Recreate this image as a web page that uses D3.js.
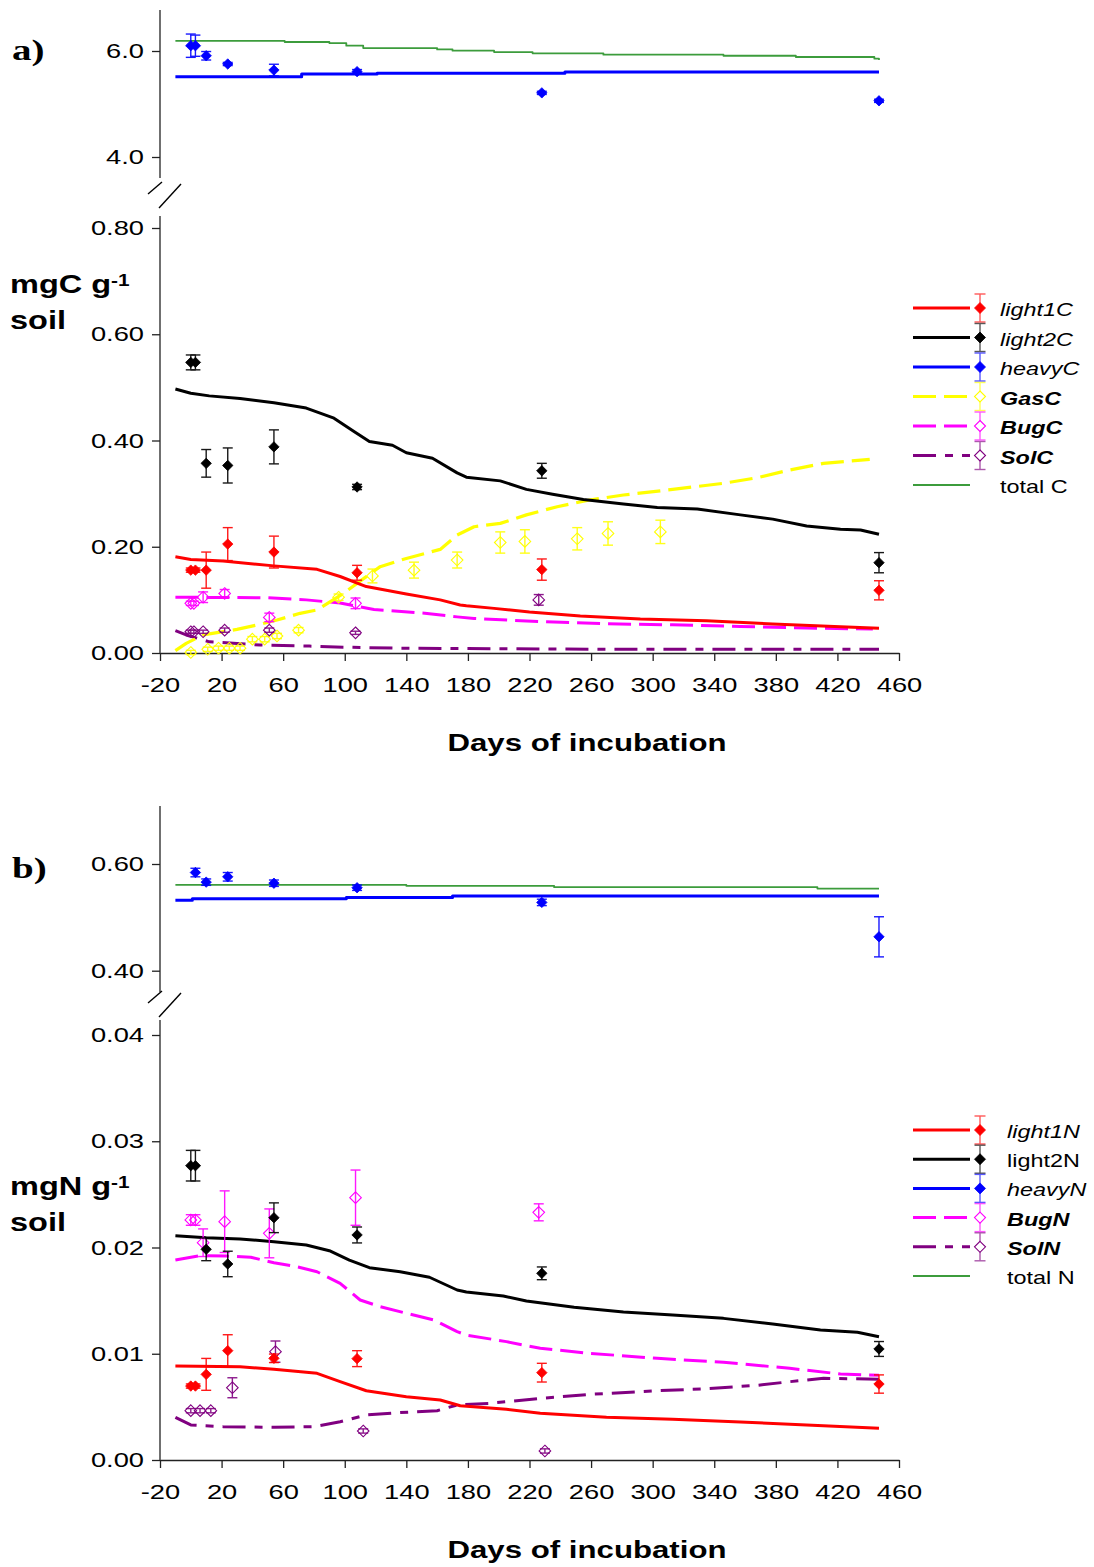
<!DOCTYPE html>
<html>
<head>
<meta charset="utf-8">
<script src="https://cdn.jsdelivr.net/npm/d3@7"></script>
<style>
  body { margin: 0; background: #fff; }
</style>
</head>
<body>
<svg id="chart" width="1094" height="1567"></svg>
<script>
// ---------- shared axis values ----------
const dayTicks = [-20, 20, 60, 100, 140, 180, 220, 260, 300, 340, 380, 420, 460];

// ---------- panel a: carbon pools (mgC g-1 soil) ----------
const fracDaysC = [0, 3, 10, 24, 54, 108, 228, 447];
const heavyC    = [6.10, 6.10, 5.91, 5.755, 5.64, 5.61, 5.21, 5.06];
const heavyCErr = [0.22, 0.20, 0.08, 0.03, 0.11, 0.04, 0.03, 0.03];
const light1C    = [0.156, 0.156, 0.156, 0.205, 0.190, 0.151, 0.157, 0.118];
const light1CErr = [0.004, 0.004, 0.034, 0.031, 0.030, 0.014, 0.020, 0.018];
const light2C    = [0.547, 0.547, 0.357, 0.353, 0.388, 0.3125, 0.343, 0.170];
const light2CErr = [0.014, 0.014, 0.026, 0.033, 0.032, 0.005, 0.014, 0.019];
const gasDaysC = [0, 11, 18, 25, 32, 40, 48, 56, 70, 96, 118, 145, 173, 201, 217, 251, 271, 305];
const gasC     = [0.001, 0.007, 0.009, 0.009, 0.009, 0.026, 0.026, 0.032, 0.043, 0.105, 0.145, 0.156, 0.175, 0.208, 0.210, 0.215, 0.225, 0.228];
const gasCErr  = [0.004, 0.004, 0.004, 0.004, 0.004, 0.005, 0.005, 0.005, 0.005, 0.006, 0.013, 0.015, 0.015, 0.020, 0.022, 0.021, 0.022, 0.022];
const bugDaysC = [0, 2, 8, 22, 51, 107];
const bugC     = [0.0935, 0.0935, 0.105, 0.112, 0.067, 0.0935];
const bugCErr  = [0.004, 0.004, 0.010, 0.0075, 0.008, 0.010];
const solDaysC = [0, 2, 8, 22, 51, 107, 226];
const solC     = [0.040, 0.040, 0.040, 0.043, 0.043, 0.038, 0.100];
const solCErr  = [0.003, 0.003, 0.003, 0.004, 0.004, 0.003, 0.010];

// simulated pools, [day, value]
const totalCModel = [[-10, 6.19], [61, 6.17], [90, 6.15], [101, 6.10], [112, 6.055], [160, 6.03], [170, 6.006],
  [197, 5.98], [222, 5.956], [268, 5.93], [346, 5.91], [393, 5.887], [444, 5.855], [447, 5.83]];
const heavyCModel = [[-10, 5.515], [72, 5.566], [121, 5.58], [243, 5.604], [447, 5.604]];
const light2CModel = [[-10, 0.497], [0, 0.489], [12, 0.484], [32, 0.479], [54, 0.471], [75, 0.461], [93, 0.442],
  [106, 0.417], [116, 0.398], [131, 0.391], [140, 0.377], [157, 0.3665], [173, 0.339], [179, 0.331], [201, 0.324],
  [218, 0.308], [235, 0.299], [255, 0.289], [281, 0.2805], [303, 0.274], [329, 0.271], [357, 0.26], [378, 0.252],
  [400, 0.239], [422, 0.233], [435, 0.2315], [447, 0.2234]];
const light1CModel = [[-10, 0.181], [0, 0.176], [21, 0.173], [54, 0.164], [82, 0.1575], [97, 0.144], [114, 0.125],
  [140, 0.111], [162, 0.10], [175, 0.0904], [179, 0.089], [197, 0.084], [220, 0.077], [253, 0.0696], [292, 0.064],
  [335, 0.0608], [378, 0.0546], [422, 0.0495], [447, 0.0465]];
const gasCModel = [[-10, 0.0044], [-3, 0.018], [8, 0.034], [30, 0.0445], [43, 0.0527], [56, 0.062], [71, 0.0747],
  [82, 0.081], [99, 0.112], [114, 0.1437], [123, 0.1625], [140, 0.178], [162, 0.195], [173, 0.222], [184, 0.2377],
  [201, 0.244], [218, 0.26], [238, 0.2754], [259, 0.288], [281, 0.2974], [313, 0.308], [346, 0.3194], [368, 0.33],
  [389, 0.3445], [411, 0.357], [441, 0.3646]];
const bugCModel = [[-10, 0.105], [50, 0.104], [75, 0.10], [97, 0.094], [119, 0.082], [152, 0.075], [173, 0.068],
  [184, 0.065], [227, 0.059], [270, 0.055], [313, 0.053], [357, 0.05], [400, 0.047], [443, 0.045]];
const solCModel = [[-10, 0.042], [-3, 0.034], [4, 0.028], [12, 0.021], [30, 0.018], [45, 0.015], [77, 0.013],
  [99, 0.011], [136, 0.009], [266, 0.007], [447, 0.007]];

// ---------- panel b: nitrogen pools (mgN g-1 soil) ----------
const fracDaysN  = [0, 3, 10, 24, 54, 108, 228, 447];
const heavyDaysN = [3, 10, 24, 54, 108, 228, 447];
const heavyN     = [0.584, 0.566, 0.576, 0.564, 0.5555, 0.528, 0.4635];
const heavyNErr  = [0.008, 0.006, 0.008, 0.006, 0.005, 0.006, 0.0376];
const light1N    = [0.00696, 0.00696, 0.00806, 0.01029, 0.00957, 0.00954, 0.00822, 0.00715];
const light1NErr = [0.0002, 0.0002, 0.0015, 0.0015, 0.0004, 0.00075, 0.00088, 0.00086];
const light2N    = [0.0277, 0.0277, 0.01983, 0.01845, 0.0228, 0.02118, 0.01757, 0.01045];
const light2NErr = [0.00144, 0.00144, 0.00107, 0.0012, 0.0014, 0.00075, 0.0006, 0.0007];
const bugDaysN = [0, 3, 8, 22, 51, 107, 226];
const bugN     = [0.02259, 0.02259, 0.02045, 0.02243, 0.02133, 0.02469, 0.02331];
const bugNErr  = [0.0005, 0.0005, 0.0013, 0.0029, 0.0023, 0.0026, 0.0008];
const solDaysN = [0, 6, 13, 27, 55, 112, 230];
const solN     = [0.00464, 0.00464, 0.00464, 0.0068, 0.0102, 0.00273, 0.00085];
const solNErr  = [0.0002, 0.0002, 0.0002, 0.00094, 0.001, 0.0002, 0.0002];

const totalNModel = [[-10, 0.561], [140, 0.559], [236, 0.5565], [407, 0.554], [447, 0.554]];
const heavyNModel = [[-10, 0.532], [1, 0.535], [101, 0.537], [170, 0.54], [447, 0.54]];
const light2NModel = [[-10, 0.02111], [10, 0.02092], [32, 0.0208], [54, 0.02055], [75, 0.02024], [90, 0.0197],
  [103, 0.01882], [116, 0.0181], [136, 0.01772], [155, 0.0172], [173, 0.016], [179, 0.01581], [203, 0.01544],
  [218, 0.01496], [249, 0.01437], [281, 0.01393], [313, 0.01365], [346, 0.01333], [378, 0.0128], [409, 0.01224],
  [433, 0.01202], [447, 0.0116]];
const light1NModel = [[-10, 0.00885], [32, 0.00878], [54, 0.00854], [82, 0.00816], [97, 0.00737], [114, 0.00652],
  [140, 0.00596], [162, 0.00565], [175, 0.0051], [205, 0.00477], [227, 0.0044], [270, 0.00402], [313, 0.00383],
  [357, 0.00358], [400, 0.0033], [447, 0.00298]];
const bugNModel = [[-10, 0.01882], [6, 0.01923], [23, 0.0192], [39, 0.01908], [54, 0.01857], [69, 0.01819],
  [82, 0.01772], [97, 0.01663], [110, 0.01506], [123, 0.01443], [140, 0.01381], [158, 0.01318], [173, 0.01208],
  [179, 0.01176], [205, 0.01114], [227, 0.01051], [259, 0.01004], [303, 0.00957], [346, 0.0092], [389, 0.00863],
  [422, 0.00809], [447, 0.00797]];
const solNModel = [[-10, 0.00402], [0, 0.0033], [21, 0.00314], [54, 0.00308], [80, 0.00314], [97, 0.0036],
  [114, 0.00424], [136, 0.00446], [160, 0.00464], [173, 0.00518], [194, 0.00533], [227, 0.0058], [259, 0.00618],
  [303, 0.00652], [335, 0.00671], [368, 0.00703], [389, 0.00737], [411, 0.00769], [447, 0.0076]];

// ---------- styling ----------
const FONT = '"Liberation Sans", Arial, sans-serif';
const SERIF = '"Liberation Serif", "Times New Roman", serif';
const SX = 1.3;   // lettering is set wide
const pool = {
  light1: { color: '#ff0000', dash: null, width: 3, filled: true },
  light2: { color: '#000000', dash: null, width: 3, filled: true },
  heavy:  { color: '#0000ff', dash: null, width: 3, filled: true },
  gas:    { color: '#ffff00', dash: '23,8', width: 3.2, filled: false },
  bug:    { color: '#ff00ff', dash: '23,8', width: 3, filled: false },
  sol:    { color: '#800080', dash: '23,9,8,9', width: 3, filled: false },
  total:  { color: '#3c9c3c', dash: null, width: 1.8, filled: null }
};

const svg = d3.select('#chart');
svg.append('rect').attr('width', 1094).attr('height', 1567).attr('fill', '#fff');
const x = d3.scaleLinear().domain([-20, 460]).range([160, 899]);

function wideText(g, px, py, str, o) {
  return g.append('text')
    .attr('transform', `translate(${px},${py}) scale(${SX},1)`)
    .attr('font-family', o.family || FONT)
    .attr('font-size', o.size)
    .attr('font-weight', o.weight || 'normal')
    .attr('font-style', o.style || 'normal')
    .attr('text-anchor', o.anchor || 'start')
    .attr('fill', '#000')
    .text(str);
}

function diamondPath(r) { return `M0,${-r}L${r},0L0,${r}L${-r},0Z`; }

function drawModel(g, y, data, st, curve) {
  g.append('path')
    .datum(data)
    .attr('fill', 'none')
    .attr('stroke', st.color)
    .attr('stroke-width', st.width)
    .attr('stroke-dasharray', st.dash)
    .attr('stroke-linejoin', 'round')
    .attr('d', d3.line().x(d => x(d[0])).y(d => y(d[1])).curve(curve || d3.curveLinear));
}

function drawPoints(g, y, days, vals, errs, st) {
  const pts = days.map((d, i) => ({ d, v: vals[i], e: errs[i] }));
  const eb = g.append('g').attr('stroke', st.color).attr('stroke-width', 1.4).attr('opacity', 0.9);
  pts.forEach(p => {
    const px = x(p.d), y1 = y(p.v + p.e), y2 = y(p.v - p.e);
    eb.append('line').attr('x1', px).attr('x2', px).attr('y1', y1).attr('y2', y2);
    eb.append('line').attr('x1', px - 5).attr('x2', px + 5).attr('y1', y1).attr('y2', y1);
    eb.append('line').attr('x1', px - 5).attr('x2', px + 5).attr('y1', y2).attr('y2', y2);
  });
  g.append('g').selectAll('path').data(pts).join('path')
    .attr('transform', p => `translate(${x(p.d)},${y(p.v)})`)
    .attr('d', diamondPath(st.filled ? 5.2 : 5.8))
    .attr('fill', st.filled ? st.color : 'none')
    .attr('stroke', st.color)
    .attr('stroke-width', st.filled ? 0.8 : 1.1);
}

function leftAxis(g, y, ticks, fmt, top, bottom) {
  const ax = g.append('g').attr('transform', 'translate(160,0)')
    .call(d3.axisLeft(y).tickValues(ticks).tickFormat(fmt).tickSize(8).tickSizeOuter(0));
  ax.select('.domain').remove();
  ax.append('line').attr('x1', 0).attr('x2', 0).attr('y1', top).attr('y2', bottom)
    .attr('stroke', '#222').attr('stroke-width', 1.3);
  ax.selectAll('.tick line').attr('stroke', '#222').attr('stroke-width', 1.3);
  ax.selectAll('.tick text')
    .attr('x', 0)
    .attr('transform', `translate(-16,0) scale(${SX},1)`)
    .attr('font-family', FONT).attr('font-size', 21).attr('fill', '#000');
}

function bottomAxis(g, y0) {
  const ax = g.append('g').attr('transform', `translate(0,${y0})`)
    .call(d3.axisBottom(x).tickValues(dayTicks).tickFormat(d => String(d)).tickSize(8).tickSizeOuter(0));
  ax.select('.domain').attr('stroke', '#222').attr('stroke-width', 1.3);
  ax.selectAll('.tick line').attr('stroke', '#222').attr('stroke-width', 1.3);
  ax.selectAll('.tick text')
    .attr('y', 0).attr('dy', null)
    .attr('transform', `translate(0,39) scale(${SX},1)`)
    .attr('font-family', FONT).attr('font-size', 21).attr('fill', '#000');
}

function axisBreak(g, yUpperEnd, yLowerStart) {
  const mid = (yUpperEnd + yLowerStart) / 2;
  g.append('line').attr('x1', 148).attr('y1', mid - 3).attr('x2', 162).attr('y2', mid - 15)
    .attr('stroke', '#000').attr('stroke-width', 1.4);
  g.append('line').attr('x1', 159).attr('y1', mid + 11).attr('x2', 181).attr('y2', mid - 13)
    .attr('stroke', '#000').attr('stroke-width', 1.4);
}

function drawLegend(g, x0, y0, step, textX, items) {
  items.forEach((it, i) => {
    const st = pool[it.key];
    const cy = y0 + i * step;
    g.append('line').attr('x1', x0).attr('x2', x0 + 57).attr('y1', cy).attr('y2', cy)
      .attr('stroke', st.color).attr('stroke-width', st.width)
      .attr('stroke-dasharray', st.dash);
    if (st.filled !== null) {
      const mx = x0 + 67;
      const eb = g.append('g').attr('stroke', st.color).attr('stroke-width', 1.4).attr('opacity', 0.65);
      eb.append('line').attr('x1', mx).attr('x2', mx).attr('y1', cy - 14).attr('y2', cy + 14);
      eb.append('line').attr('x1', mx - 5.5).attr('x2', mx + 5.5).attr('y1', cy - 14).attr('y2', cy - 14);
      eb.append('line').attr('x1', mx - 5.5).attr('x2', mx + 5.5).attr('y1', cy + 14).attr('y2', cy + 14);
      g.append('path').attr('transform', `translate(${mx},${cy})`)
        .attr('d', diamondPath(5.5))
        .attr('fill', st.filled ? st.color : '#fff')
        .attr('stroke', st.color).attr('stroke-width', st.filled ? 0.8 : 1.1);
    }
    wideText(g, textX, cy + 8, it.label, { size: 18, style: it.style, weight: it.weight });
  });
}

function yLabel(g, baseline, unit) {
  const t = g.append('text')
    .attr('transform', `translate(10,${baseline}) scale(${SX},1)`)
    .attr('font-family', FONT).attr('font-size', 25).attr('font-weight', 'bold').attr('fill', '#000');
  t.append('tspan').text(unit + ' g');
  t.append('tspan').attr('font-size', 16).attr('dy', -7).text('-1');
  wideText(g, 10, baseline + 36, 'soil', { size: 25, weight: 'bold' });
}

// ---------- panel a ----------
{
  const g = svg.append('g');
  const yU = d3.scaleLinear().domain([4, 6]).range([157, 51]);
  const yL = d3.scaleLinear().domain([0, 0.8]).range([653, 228]);

  leftAxis(g, yU, [4, 6], d3.format('.1f'), 10, 178);
  leftAxis(g, yL, [0, 0.2, 0.4, 0.6, 0.8], d3.format('.2f'), 216, 653);
  axisBreak(g, 178, 216);
  bottomAxis(g, 653);

  drawModel(g, yU, totalCModel, pool.total, d3.curveStepAfter);
  drawModel(g, yU, heavyCModel, pool.heavy, d3.curveStepAfter);
  drawPoints(g, yU, fracDaysC, heavyC, heavyCErr, pool.heavy);

  drawModel(g, yL, solCModel, pool.sol);
  drawModel(g, yL, bugCModel, pool.bug);
  drawModel(g, yL, gasCModel, pool.gas);
  drawModel(g, yL, light1CModel, pool.light1);
  drawModel(g, yL, light2CModel, pool.light2);
  drawPoints(g, yL, gasDaysC, gasC, gasCErr, pool.gas);
  drawPoints(g, yL, bugDaysC, bugC, bugCErr, pool.bug);
  drawPoints(g, yL, solDaysC, solC, solCErr, pool.sol);
  drawPoints(g, yL, fracDaysC, light1C, light1CErr, pool.light1);
  drawPoints(g, yL, fracDaysC, light2C, light2CErr, pool.light2);

  wideText(g, 12, 60, 'a)', { size: 30, weight: 'bold', family: SERIF });
  yLabel(g, 293, 'mgC');
  wideText(g, 587, 751, 'Days of incubation', { size: 24, weight: 'bold', anchor: 'middle' });

  drawLegend(g, 913, 308, 29.5, 1000, [
    { key: 'light1', label: 'light1C', style: 'italic' },
    { key: 'light2', label: 'light2C', style: 'italic' },
    { key: 'heavy',  label: 'heavyC', style: 'italic' },
    { key: 'gas',    label: 'GasC', style: 'italic', weight: 'bold' },
    { key: 'bug',    label: 'BugC', style: 'italic', weight: 'bold' },
    { key: 'sol',    label: 'SolC', style: 'italic', weight: 'bold' },
    { key: 'total',  label: 'total C' }
  ]);
}

// ---------- panel b ----------
{
  const g = svg.append('g');
  const yU = d3.scaleLinear().domain([0.4, 0.6]).range([970.7, 864]);
  const yL = d3.scaleLinear().domain([0, 0.04]).range([1460, 1035]);

  leftAxis(g, yU, [0.4, 0.6], d3.format('.2f'), 806, 992);
  leftAxis(g, yL, [0, 0.01, 0.02, 0.03, 0.04], d3.format('.2f'), 1020, 1460);
  axisBreak(g, 992, 1020);
  bottomAxis(g, 1460);

  drawModel(g, yU, totalNModel, pool.total, d3.curveStepAfter);
  drawModel(g, yU, heavyNModel, pool.heavy, d3.curveStepAfter);
  drawPoints(g, yU, heavyDaysN, heavyN, heavyNErr, pool.heavy);

  drawModel(g, yL, solNModel, pool.sol);
  drawModel(g, yL, bugNModel, pool.bug);
  drawModel(g, yL, light1NModel, pool.light1);
  drawModel(g, yL, light2NModel, pool.light2);
  drawPoints(g, yL, bugDaysN, bugN, bugNErr, pool.bug);
  drawPoints(g, yL, solDaysN, solN, solNErr, pool.sol);
  drawPoints(g, yL, fracDaysN, light1N, light1NErr, pool.light1);
  drawPoints(g, yL, fracDaysN, light2N, light2NErr, pool.light2);

  wideText(g, 12, 878, 'b)', { size: 30, weight: 'bold', family: SERIF });
  yLabel(g, 1195, 'mgN');
  wideText(g, 587, 1558, 'Days of incubation', { size: 24, weight: 'bold', anchor: 'middle' });

  drawLegend(g, 913, 1130, 29.2, 1007, [
    { key: 'light1', label: 'light1N', style: 'italic' },
    { key: 'light2', label: 'light2N' },
    { key: 'heavy',  label: 'heavyN', style: 'italic' },
    { key: 'bug',    label: 'BugN', style: 'italic', weight: 'bold' },
    { key: 'sol',    label: 'SolN', style: 'italic', weight: 'bold' },
    { key: 'total',  label: 'total N' }
  ]);
}
</script>
</body>
</html>
